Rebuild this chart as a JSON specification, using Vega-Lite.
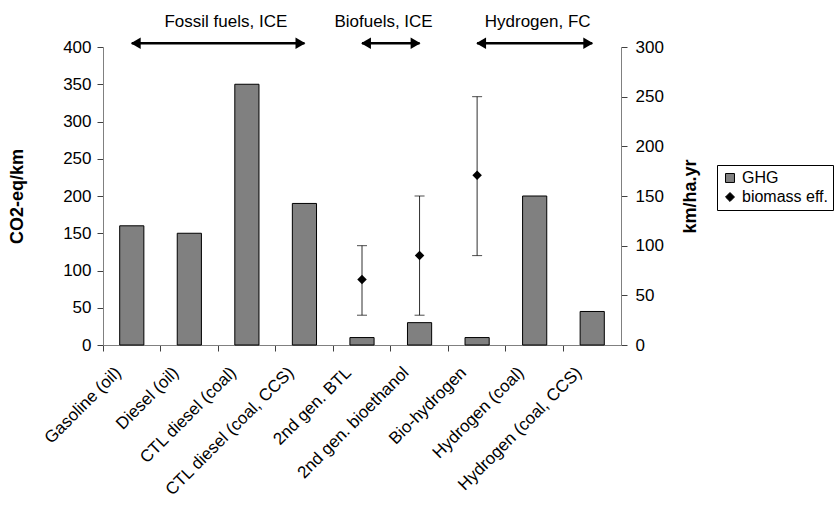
{
  "$schema": "https://vega.github.io/schema/vega-lite/v6.json",
  "width": 518,
  "height": 298,
  "autosize": {"type": "none"},
  "padding": {"left": 103, "top": 47, "right": 218, "bottom": 160},
  "background": "white",
  "config": {
    "font": "Liberation Sans",
    "view": {"stroke": null},
    "axis": {"grid": false, "labelFontSize": 17, "titleFontSize": 18, "titleFontWeight": "bold", "labelColor": "black", "titleColor": "black", "domainColor": "#808080", "tickColor": "#404040", "tickSize": 6}
  },
  "datasets": {
    "fuels": [
      {"cat": "Gasoline (oil)", "ghg": 160},
      {"cat": "Diesel (oil)", "ghg": 150},
      {"cat": "CTL diesel (coal)", "ghg": 350},
      {"cat": "CTL diesel (coal, CCS)", "ghg": 190},
      {"cat": "2nd gen. BTL", "ghg": 10},
      {"cat": "2nd gen. bioethanol", "ghg": 30},
      {"cat": "Bio-hydrogen", "ghg": 10},
      {"cat": "Hydrogen (coal)", "ghg": 200},
      {"cat": "Hydrogen (coal, CCS)", "ghg": 45}
    ],
    "bio": [
      {"cat": "2nd gen. BTL", "eff": 66, "lo": 30, "hi": 100},
      {"cat": "2nd gen. bioethanol", "eff": 90, "lo": 30, "hi": 150},
      {"cat": "Bio-hydrogen", "eff": 171, "lo": 90, "hi": 250}
    ],
    "groups": [
      {"label": "Fossil fuels, ICE", "start": "Gasoline (oil)", "end": "CTL diesel (coal, CCS)", "mid": "CTL diesel (coal)", "ay": 405, "ty": 433},
      {"label": "Biofuels, ICE", "start": "2nd gen. BTL", "end": "2nd gen. bioethanol", "mid": "2nd gen. bioethanol", "ay": 405, "ty": 433},
      {"label": "Hydrogen, FC", "start": "Bio-hydrogen", "end": "Hydrogen (coal, CCS)", "mid": "Hydrogen (coal)", "ay": 405, "ty": 433}
    ]
  },
  "layer": [
    {
      "data": {"name": "fuels"},
      "mark": {"type": "bar", "stroke": "black", "strokeWidth": 1},
      "encoding": {
        "x": {"field": "cat", "type": "nominal", "sort": null,
          "scale": {"domain": ["Gasoline (oil)", "Diesel (oil)", "CTL diesel (coal)", "CTL diesel (coal, CCS)", "2nd gen. BTL", "2nd gen. bioethanol", "Bio-hydrogen", "Hydrogen (coal)", "Hydrogen (coal, CCS)"], "paddingInner": 0.58, "paddingOuter": 0.29},
          "axis": {"title": null, "labelAngle": -45, "bandPosition": -0.69, "labelOffset": -19, "labelPadding": 13}},
        "y": {"field": "ghg", "type": "quantitative", "scale": {"domain": [0, 400], "nice": false},
          "axis": {"title": "CO2-eq/km", "values": [0, 50, 100, 150, 200, 250, 300, 350, 400], "titlePadding": 36, "labelPadding": 6}},
        "color": {"datum": "GHG", "type": "nominal", "scale": {"domain": ["GHG", "biomass eff."], "range": ["#808080", "black"]},
          "legend": {"title": null, "orient": "none", "legendX": 614, "legendY": 118, "strokeColor": "black", "padding": 5, "labelFontSize": 16, "symbolSize": 80, "symbolStrokeColor": "black", "symbolStrokeWidth": 1, "rowPadding": 3, "labelColor": "black"}}
      }
    },
    {
      "data": {"name": "groups"},
      "mark": {"type": "rule", "strokeWidth": 2.5, "color": "black"},
      "encoding": {
        "x": {"field": "start", "type": "nominal", "sort": null},
        "x2": {"field": "end"},
        "y": {"field": "ay", "type": "quantitative", "scale": {"domain": [0, 400], "nice": false}, "axis": null}
      }
    },
    {
      "data": {"name": "groups"},
      "mark": {"type": "point", "shape": "triangle-left", "filled": true, "color": "black", "size": 130, "xOffset": 4, "opacity": 1},
      "encoding": {
        "x": {"field": "start", "type": "nominal", "sort": null},
        "y": {"field": "ay", "type": "quantitative", "scale": {"domain": [0, 400], "nice": false}, "axis": null}
      }
    },
    {
      "data": {"name": "groups"},
      "mark": {"type": "point", "shape": "triangle-right", "filled": true, "color": "black", "size": 130, "xOffset": -4, "opacity": 1},
      "encoding": {
        "x": {"field": "end", "type": "nominal", "sort": null},
        "y": {"field": "ay", "type": "quantitative", "scale": {"domain": [0, 400], "nice": false}, "axis": null}
      }
    },
    {
      "data": {"name": "groups"},
      "transform": [{"filter": "datum.label == 'Fossil fuels, ICE'"}],
      "mark": {"type": "text", "fontSize": 17, "color": "black", "baseline": "middle", "align": "center", "dx": -21},
      "encoding": {
        "x": {"field": "mid", "type": "nominal", "sort": null},
        "y": {"field": "ty", "type": "quantitative", "scale": {"domain": [0, 400], "nice": false}, "axis": null},
        "text": {"field": "label"}
      }
    },
    {
      "data": {"name": "groups"},
      "transform": [{"filter": "datum.label == 'Biofuels, ICE'"}],
      "mark": {"type": "text", "fontSize": 17, "color": "black", "baseline": "middle", "align": "center", "dx": -36},
      "encoding": {
        "x": {"field": "mid", "type": "nominal", "sort": null},
        "y": {"field": "ty", "type": "quantitative", "scale": {"domain": [0, 400], "nice": false}, "axis": null},
        "text": {"field": "label"}
      }
    },
    {
      "data": {"name": "groups"},
      "transform": [{"filter": "datum.label == 'Hydrogen, FC'"}],
      "mark": {"type": "text", "fontSize": 17, "color": "black", "baseline": "middle", "align": "center", "dx": 3},
      "encoding": {
        "x": {"field": "mid", "type": "nominal", "sort": null},
        "y": {"field": "ty", "type": "quantitative", "scale": {"domain": [0, 400], "nice": false}, "axis": null},
        "text": {"field": "label"}
      }
    },
    {
      "data": {"name": "bio"},
      "mark": {"type": "rule", "color": "#303030", "strokeWidth": 1},
      "encoding": {
        "x": {"field": "cat", "type": "nominal", "sort": null},
        "y": {"field": "lo", "type": "quantitative", "scale": {"domain": [0, 300], "nice": false},
          "axis": {"orient": "right", "title": "km/ha.yr", "titleAngle": 270, "values": [0, 50, 100, 150, 200, 250, 300], "titlePadding": 36, "labelPadding": 8}},
        "y2": {"field": "hi"}
      }
    },
    {
      "data": {"name": "bio"},
      "mark": {"type": "tick", "color": "black", "thickness": 1, "size": 10},
      "encoding": {
        "x": {"field": "cat", "type": "nominal", "sort": null},
        "y": {"field": "lo", "type": "quantitative", "scale": {"domain": [0, 300], "nice": false}, "axis": null}
      }
    },
    {
      "data": {"name": "bio"},
      "mark": {"type": "tick", "color": "black", "thickness": 1, "size": 10},
      "encoding": {
        "x": {"field": "cat", "type": "nominal", "sort": null},
        "y": {"field": "hi", "type": "quantitative", "scale": {"domain": [0, 300], "nice": false}, "axis": null}
      }
    },
    {
      "data": {"name": "bio"},
      "mark": {"type": "point", "filled": true, "opacity": 1, "size": 90},
      "encoding": {
        "x": {"field": "cat", "type": "nominal", "sort": null},
        "y": {"field": "eff", "type": "quantitative", "scale": {"domain": [0, 300], "nice": false}, "axis": null},
        "color": {"datum": "biomass eff.", "type": "nominal"},
        "shape": {"datum": "biomass eff.", "type": "nominal", "scale": {"domain": ["GHG", "biomass eff."], "range": ["square", "diamond"]}}
      }
    }
  ],
  "resolve": {"scale": {"y": "independent"}}
}
